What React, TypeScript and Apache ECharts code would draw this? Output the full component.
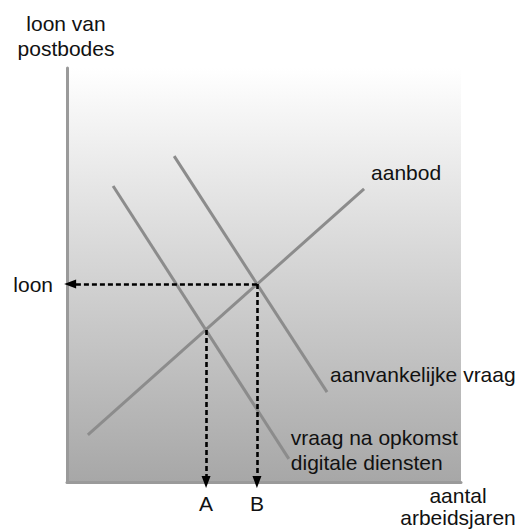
import React, { useEffect, useRef } from "react";
import * as echarts from "echarts";

// Line end points in (quantity, wage) units on a 0–10 scale
const supply = [[0.53, 1.14], [7.54, 7.08]];
const demandBefore = [[2.72, 7.87], [6.6, 2.17]];
const demandAfter = [[1.17, 7.15], [5.63, 0.56]];

// Equilibria
const pointB = [4.82, 4.78];
const pointA = [3.53, 3.67];
const wageArrowTip = 0.08;

const yTitle = "loon van\npostbodes";
const xTitle = "aantal\narbeidsjaren";
const wageLabel = "loon";
const labelA = "A";
const labelB = "B";
const supplyLabel = "aanbod";
const beforeLabel = "aanvankelijke vraag";
const afterLabel = "vraag na opkomst\ndigitale diensten";

const FONT = '"Liberation Sans", Arial, Helvetica, sans-serif';
const LINE = "#8c8c8c";
const AXIS = "#9a9a9a";

export default function App() {
  const ref = useRef<HTMLDivElement>(null);

  useEffect(() => {
    if (!ref.current) return;
    const chart = echarts.init(ref.current, null, { renderer: "svg" });

    const dashed = {
      color: "#000",
      width: 2.6,
      type: [5, 3] as any,
    };

    chart.setOption({
      animation: false,
      grid: {
        left: 67,
        top: 68,
        width: 394,
        height: 414,
        show: true,
        borderWidth: 0,
        backgroundColor: new echarts.graphic.LinearGradient(0, 0, 0, 1, [
          { offset: 0, color: "#ffffff" },
          { offset: 1, color: "#a7a7a7" },
        ]),
      },
      xAxis: {
        type: "value",
        min: 0,
        max: 10,
        axisLine: { show: true, lineStyle: { color: AXIS, width: 3 } },
        axisTick: { show: false },
        axisLabel: { show: false },
        splitLine: { show: false },
      },
      yAxis: {
        type: "value",
        min: 0,
        max: 10,
        axisLine: { show: true, lineStyle: { color: AXIS, width: 3 } },
        axisTick: { show: false },
        axisLabel: { show: false },
        splitLine: { show: false },
      },
      series: [
        {
          name: supplyLabel,
          type: "line",
          data: supply,
          symbol: "none",
          silent: true,
          lineStyle: { color: LINE, width: 3 },
        },
        {
          name: beforeLabel,
          type: "line",
          data: demandBefore,
          symbol: "none",
          silent: true,
          lineStyle: { color: LINE, width: 3 },
        },
        {
          name: afterLabel,
          type: "line",
          data: demandAfter,
          symbol: "none",
          silent: true,
          lineStyle: { color: LINE, width: 3 },
          markLine: {
            silent: true,
            symbol: ["none", "triangle"],
            symbolSize: [9, 12],
            label: { show: false },
            lineStyle: dashed,
            emphasis: { disabled: true },
            data: [
              [{ coord: pointB }, { coord: [wageArrowTip, pointB[1]] }],
              [{ coord: pointB }, { coord: [pointB[0], 0] }],
              [{ coord: pointA }, { coord: [pointA[0], 0] }],
            ],
          },
        },
      ],
    });

    const px = (p: number[]) => chart.convertToPixel({ gridIndex: 0 }, p) as number[];
    const text = (
      anchor: number[],
      dx: number,
      dy: number,
      str: string,
      align: string,
      lineHeight = 25
    ) => {
      const [x, y] = px(anchor);
      return {
        type: "text",
        x: x + dx,
        y: y + dy,
        silent: true,
        style: {
          text: str,
          fill: "#111",
          fontSize: 21,
          fontFamily: FONT,
          lineHeight,
          align,
          verticalAlign: "middle",
        },
      };
    };

    chart.setOption({
      graphic: [
        text([0, 10], -1, -32.5, yTitle, "center"),
        text([10, 0], -3, 24.5, xTitle, "center", 22),
        text([0, pointB[1]], -14, 0, wageLabel, "right"),
        text([pointA[0], 0], 0, 21, labelA, "center"),
        text([pointB[0], 0], 0, 21, labelB, "center"),
        text(supply[1], 7, -16, supplyLabel, "left"),
        text(demandBefore[1], 3, -18, beforeLabel, "left"),
        text(demandAfter[1], 2, -8.5, afterLabel, "left"),
      ],
    });

    return () => chart.dispose();
  }, []);

  return (
    <div
      ref={ref}
      style={{ position: "absolute", left: 0, top: 0, width: 526, height: 529 }}
    />
  );
}
